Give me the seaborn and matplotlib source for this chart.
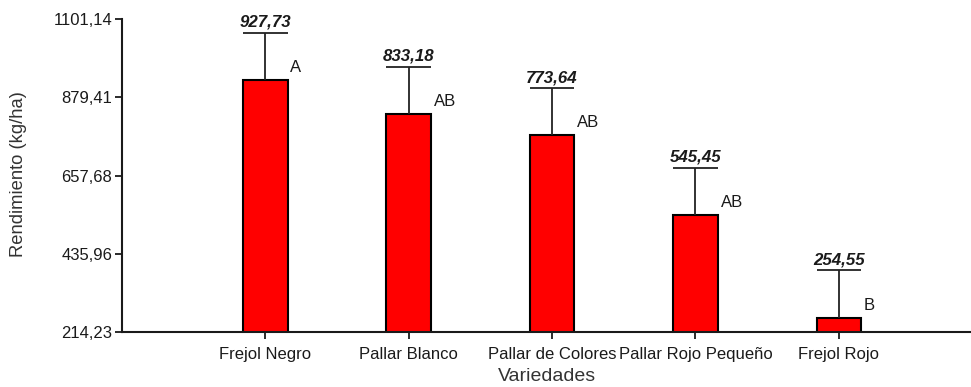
import matplotlib
matplotlib.use("Agg")
import matplotlib.pyplot as plt
import seaborn as sns
import numpy as np
import pandas as pd

# Yield data per variety
variedades = ["Frejol Negro", "Pallar Blanco", "Pallar de Colores",
              "Pallar Rojo Pequeño", "Frejol Rojo"]
rendimiento = [927.73, 833.18, 773.64, 545.45, 254.55]
desviacion = [134, 133, 131, 134, 134]
letras = ["A", "AB", "AB", "AB", "B"]
y_ticks = [214.23, 435.96, 657.68, 879.41, 1101.14]

df = pd.DataFrame({"Variedades": variedades, "Rendimiento": rendimiento})

sns.set_style("white")
plt.rcParams["font.family"] = ["Liberation Sans", "DejaVu Sans"]

fig = plt.figure(figsize=(9.71, 3.87), dpi=100)
ax = fig.add_axes([122 / 971, 55 / 387, 1 - 122 / 971 + 0.01, 313 / 387])

bar_w = 0.31
sns.barplot(data=df, x="Variedades", y="Rendimiento", color="#FF0000",
            saturation=1, width=bar_w, edgecolor="black", linewidth=1.5,
            errorbar=None, ax=ax)

x = np.arange(len(variedades))
means = np.array(rendimiento)
tops = means + np.array(desviacion)

# Upper error bars with caps
ax.vlines(x, means, tops, color="#222222", linewidth=1.3, zorder=3)
ax.hlines(tops, x - bar_w / 2, x + bar_w / 2, color="#222222", linewidth=1.3, zorder=3)

# Mean value labels and significance letters
for xi, m, t, l in zip(x, means, tops, letras):
    ax.text(xi, t + 9, f"{m:.2f}".replace(".", ","), ha="center", va="bottom",
            fontsize=12.2, fontweight="bold", fontstyle="italic", color="#1a1a1a")
    ax.text(xi + bar_w / 2 + 0.02, m + 14, l, ha="left", va="bottom",
            fontsize=12, color="#1a1a1a")

ax.set_ylim(y_ticks[0], y_ticks[-1])
ax.set_xlim(-1, 4.99)
ax.set_yticks(y_ticks)
ax.set_yticklabels([f"{v:.2f}".replace(".", ",") for v in y_ticks])

for s in ["top", "right"]:
    ax.spines[s].set_visible(False)
for s in ["left", "bottom"]:
    ax.spines[s].set_color("#1a1a1a")
    ax.spines[s].set_linewidth(1.5)

ax.tick_params(axis="both", direction="out", length=5, width=1.3,
               color="#1a1a1a", labelsize=12, labelcolor="#1a1a1a",
               bottom=True, left=True)
ax.tick_params(axis="x", pad=6)
ax.tick_params(axis="y", pad=2)
ax.set_xlabel("Variedades", fontsize=14, color="#333333")
ax.set_ylabel("Rendimiento (kg/ha)", fontsize=13.2, color="#333333")
ax.yaxis.set_label_coords(-0.111, 0.505)
ax.xaxis.set_label_coords(0.495, -0.115)

fig.savefig("out.png", dpi=100)
